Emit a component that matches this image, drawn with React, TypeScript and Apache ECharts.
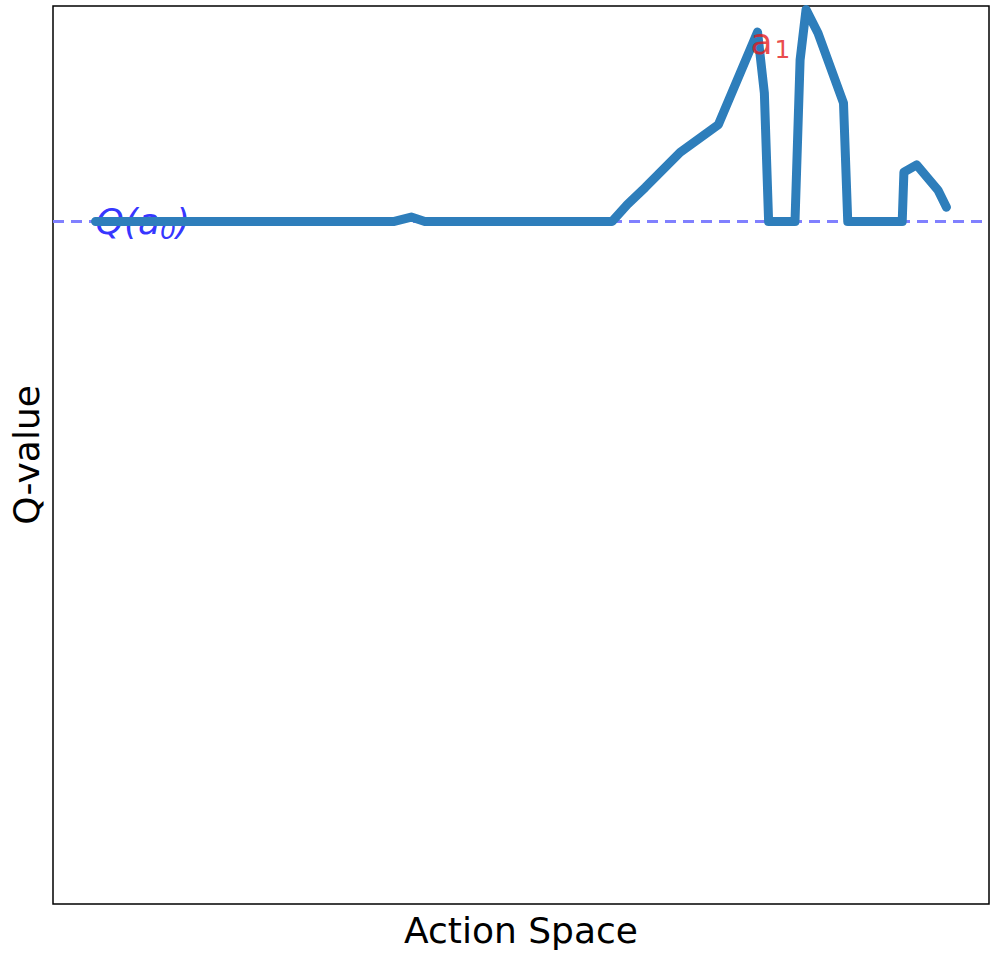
import React, { useEffect, useRef } from "react";
import * as echarts from "echarts";

const actionX = [0, 35.0, 37.1, 38.7, 60.7, 62.5, 64.6, 68.7, 73.2, 77.8, 78.6, 79.1, 82.2, 82.8, 83.5, 84.9, 87.9, 88.4, 94.8, 95.0, 96.5, 99.0, 100];
const qValues = [76, 76, 76.5, 76, 76, 77.9, 79.8, 83.7, 86.8, 97.1, 90.3, 76, 76, 94.0, 99.6, 97.0, 89.2, 76, 76, 81.5, 82.3, 79.5, 77.6];
const baselineQ = 76;
const a1Index = 9;

const X_MIN = -5;
const X_MAX = 105;
const Y_MIN = 0;
const Y_MAX = 100;

export default function App() {
  const ref = useRef<HTMLDivElement>(null);
  useEffect(() => {
    document.body.style.margin = "0";
    const chart = echarts.init(ref.current!, null, { renderer: "svg" });
    const lineData = actionX.map((x, i) => [x, qValues[i]]);
    const font = "DejaVu Sans";
    chart.setOption({
      animation: false,
      grid: {
        left: 52,
        top: 6,
        width: 937,
        height: 898,
        show: true,
        borderColor: "#000",
        borderWidth: 1.5,
        backgroundColor: "#fff",
      },
      xAxis: {
        type: "value",
        min: X_MIN,
        max: X_MAX,
        axisLine: { show: false },
        axisTick: { show: false },
        axisLabel: { show: false },
        splitLine: { show: false },
        name: "Action Space",
        nameLocation: "middle",
        nameGap: 8,
        nameTextStyle: { fontFamily: font, fontSize: 36, color: "#000", verticalAlign: "top" },
      },
      yAxis: {
        type: "value",
        min: Y_MIN,
        max: Y_MAX,
        axisLine: { show: false },
        axisTick: { show: false },
        axisLabel: { show: false },
        splitLine: { show: false },
        name: "Q-value",
        nameLocation: "middle",
        nameGap: 9,
        nameTextStyle: { fontFamily: font, fontSize: 36, color: "#000" },
      },
      series: [
        {
          type: "line",
          data: [[X_MIN, baselineQ], [X_MAX, baselineQ]],
          symbol: "none",
          z: 1,
          lineStyle: { color: "#8080ff", width: 3, type: [11, 7] },
          silent: true,
        },
        {
          type: "scatter",
          data: [[actionX[0], baselineQ]],
          symbolSize: 0,
          z: 2,
          label: {
            show: true,
            position: "right",
            distance: 0,
            formatter: "{q|Q(a}{s|0}{q|)}",
            color: "#0000ff",
            fontFamily: font,
            rich: {
              q: { fontSize: 36, fontStyle: "italic", color: "#0000ff", fontFamily: font },
              s: { fontSize: 25, fontStyle: "italic", color: "#0000ff", fontFamily: font, padding: [18, 0, 0, 0] },
            },
          },
        },
        {
          type: "line",
          data: lineData,
          symbol: "none",
          z: 3,
          lineStyle: { color: "#2e7ebb", width: 9, cap: "round", join: "round" },
        },
        {
          type: "scatter",
          data: [[actionX[a1Index], qValues[a1Index]]],
          symbolSize: 0,
          z: 4,
          label: {
            show: true,
            position: "right",
            distance: -7,
            offset: [0, 9],
            formatter: "{q|a}{s|1}",
            rich: {
              q: { fontSize: 36, color: "#e41a1c", fontFamily: font },
              s: { fontSize: 25, color: "#e41a1c", fontFamily: font, padding: [16, 0, 0, 2] },
            },
          },
        },
      ],
    });
    return () => chart.dispose();
  }, []);
  return <div ref={ref} style={{ width: 997, height: 957 }} />;
}
